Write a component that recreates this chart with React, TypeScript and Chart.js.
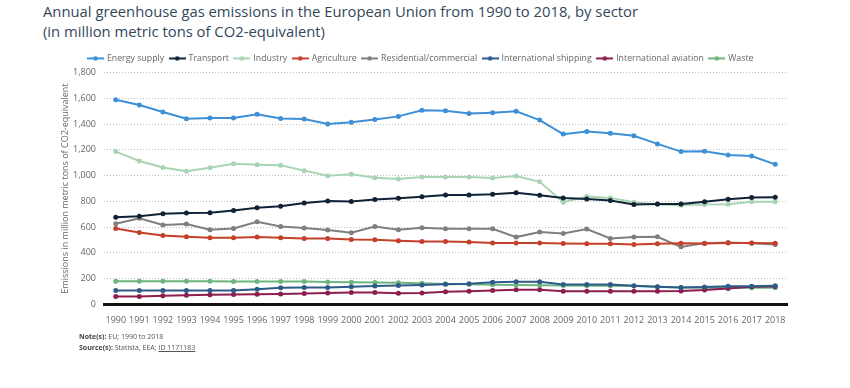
import React, { useEffect, useRef } from "react";
import { Chart, registerables } from "chart.js";

Chart.register(...registerables);

const years = [
  "1990","1991","1992","1993","1994","1995","1996","1997","1998","1999",
  "2000","2001","2002","2003","2004","2005","2006","2007","2008","2009",
  "2010","2011","2012","2013","2014","2015","2016","2017","2018",
];

const energySupply = [1591,1550,1495,1443,1448,1448,1477,1445,1440,1401,1416,1437,1461,1508,1505,1484,1490,1500,1432,1323,1344,1330,1310,1247,1187,1190,1161,1153,1088];
const transport = [676,684,704,710,712,728,751,762,787,803,798,814,824,835,850,850,855,866,848,827,819,806,775,780,780,796,816,830,832];
const industry = [1187,1114,1064,1035,1062,1093,1085,1080,1039,999,1010,984,973,989,989,989,981,997,952,793,837,827,793,775,770,775,777,796,796];
const agriculture = [589,558,535,524,516,516,522,516,511,511,503,501,493,488,488,483,477,477,477,472,470,470,464,470,475,472,477,477,474];
const residential = [626,668,616,623,579,589,642,605,593,578,556,605,579,595,587,587,587,522,561,550,584,511,522,524,446,475,480,475,464];
const shipping = [107,107,107,107,107,107,117,128,130,130,136,141,146,149,155,159,170,174,175,154,154,154,143,135,130,133,140,140,143];
const aviation = [60,60,65,70,73,75,78,80,83,88,91,91,86,88,97,101,106,112,112,100,101,101,101,101,102,110,123,136,138];
const waste = [178,178,178,178,178,177,177,176,176,172,170,168,166,163,158,155,152,150,148,145,143,143,142,135,130,128,128,128,128];

const seriesNames = ["Energy supply","Transport","Industry","Agriculture","Residential/commercial","International shipping","International aviation","Waste"];
const seriesColors = ["#3d8fd6","#0f2236","#a9d4b3","#c5402b","#7f7f7f","#2d5b87","#8c1d4c","#6db57f"];
const seriesValues = [energySupply,transport,industry,agriculture,residential,shipping,aviation,waste];

const yTicks = [0,200,400,600,800,1000,1200,1400,1600,1800];

function legendIcon(color: string): HTMLCanvasElement {
  const c = document.createElement("canvas");
  c.width = 17;
  c.height = 7;
  const ctx = c.getContext("2d")!;
  ctx.strokeStyle = color;
  ctx.lineWidth = 2;
  ctx.beginPath();
  ctx.moveTo(0, 3.5);
  ctx.lineTo(17, 3.5);
  ctx.stroke();
  ctx.fillStyle = color;
  ctx.beginPath();
  ctx.arc(8.5, 3.5, 2.3, 0, Math.PI * 2);
  ctx.fill();
  return c;
}

const legendShift = {
  id: "legendShift",
  afterLayout(chart: any) {
    if (chart.legend) {
      chart.legend.left = 0;
      chart.legend.right = 842;
    }
  },
};

export default function App() {
  const ref = useRef<HTMLCanvasElement | null>(null);

  useEffect(() => {
    document.body.style.margin = "0";
    const icons = seriesColors.map(legendIcon);
    const chart = new Chart(ref.current!, {
      type: "line",
      data: {
        labels: years,
        datasets: seriesNames.map((name, i) => ({
          label: name,
          data: seriesValues[i],
          borderColor: seriesColors[i],
          backgroundColor: seriesColors[i],
          borderWidth: 2,
          pointRadius: 2.5,
          pointBorderWidth: 0,
          pointBackgroundColor: seriesColors[i],
          tension: 0,
        })),
      },
      plugins: [legendShift],
      options: {
        animation: false,
        responsive: false,
        maintainAspectRatio: false,
        layout: { padding: { top: 48, bottom: 51, left: 0, right: 63 } },
        plugins: {
          tooltip: { enabled: false },
          legend: {
            position: "top",
            labels: {
              usePointStyle: true,
              pointStyleWidth: 14,
              padding: 6,
              color: "#666",
              font: { family: "'Open Sans'", size: 8.8 },
              generateLabels: () =>
                seriesNames.map((name, i) => ({
                  text: name,
                  pointStyle: icons[i],
                  fillStyle: seriesColors[i],
                  strokeStyle: seriesColors[i],
                  lineWidth: 0,
                  hidden: false,
                  datasetIndex: i,
                  fontColor: "#666",
                })),
            },
          },
        },
        scales: {
          x: {
            offset: true,
            grid: { display: false, drawTicks: false },
            border: { display: true, color: "#111", width: 3 },
            ticks: {
              color: "#666",
              font: { family: "'Open Sans'", size: 9 },
              padding: 11,
              maxRotation: 0,
              autoSkip: false,
            },
          },
          y: {
            min: 0,
            max: 1800,
            afterFit: (s: any) => {
              s.width = 104;
            },
            afterBuildTicks: (s: any) => {
              s.ticks = yTicks.map((v) => ({ value: v }));
            },
            grid: { color: "#bdbdbd", lineWidth: 1, drawTicks: false },
            border: { display: false, dash: [1, 2] },
            ticks: {
              color: "#666",
              font: { family: "'Open Sans'", size: 9 },
              padding: 8,
              callback: (v: any) => Number(v).toLocaleString("en-US"),
            },
            title: {
              display: true,
              text: "Emissions in million metric tons of CO2-equivalent",
              color: "#666",
              font: { family: "'Open Sans'", size: 9 },
              padding: { top: 60, bottom: 0 },
            },
          },
        },
      },
    });
    return () => chart.destroy();
  }, []);

  return (
    <div style={{ position: "relative", width: 850, height: 388, background: "#fff", fontFamily: "'Open Sans', sans-serif" }}>
      <div style={{ position: "absolute", left: 43, top: 2, fontSize: 14.8, lineHeight: "19.5px", color: "#33475b" }}>
        Annual greenhouse gas emissions in the European Union from 1990 to 2018, by sector
        <br />
        (in million metric tons of CO2-equivalent)
      </div>
      <canvas ref={ref} width={850} height={388} style={{ position: "absolute", left: 0, top: 0, width: 850, height: 388 }} />
      <div style={{ position: "absolute", left: 79, top: 332, fontSize: 7, lineHeight: "10.5px", color: "#555" }}>
        <div><b style={{ color: "#444" }}>Note(s):</b> EU; 1990 to 2018</div>
        <div><b style={{ color: "#444" }}>Source(s):</b> Statista, EEA; <span style={{ textDecoration: "underline" }}>ID 1171183</span></div>
      </div>
    </div>
  );
}
